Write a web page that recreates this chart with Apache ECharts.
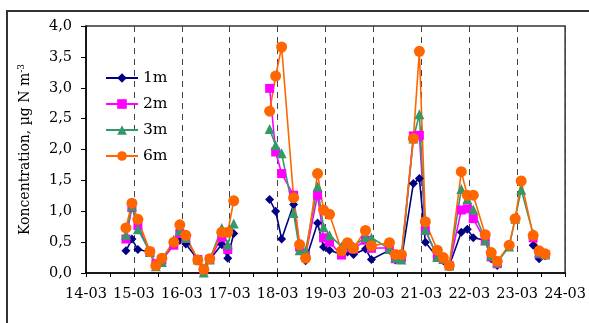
<!DOCTYPE html>
<html>
<head>
<meta charset="utf-8">
<script src="https://cdn.jsdelivr.net/npm/echarts@6/dist/echarts.min.js"></script>
<style>
  html, body { margin: 0; padding: 0; background: #fff; }
  #chart { width: 589px; height: 323px; }
</style>
</head>
<body>
<div id="chart"></div>
<script>
// Sampling times (day-month hour); a blank time breaks every line
const times = [
  '14-03 20', '14-03 23', '15-03 02', '15-03 08', '15-03 11', '15-03 14',
  '15-03 20', '15-03 23', '16-03 02', '16-03 08', '16-03 11', '16-03 14',
  '16-03 20', '16-03 23', '17-03 02', '17-03 08',
  '17-03 20', '17-03 23', '18-03 02', '18-03 08', '18-03 11', '18-03 14',
  '18-03 20', '18-03 23', '19-03 02', '19-03 08', '19-03 11', '19-03 14',
  '19-03 20', '19-03 23', '20-03 08', '20-03 11', '20-03 14',
  '20-03 20', '20-03 23', '21-03 02', '21-03 08', '21-03 11', '21-03 14',
  '21-03 20', '21-03 23', '22-03 02', '22-03 08', '22-03 11', '22-03 14',
  '22-03 20', '22-03 23', '23-03 02', '23-03 08', '23-03 11', '23-03 14'
];

// Concentration, µg N m-3, at each height
const c1m = [
  0.36, 0.55, 0.38, 0.34, 0.12, 0.20, 0.48, 0.53, 0.47, 0.22, 0.05, 0.22,
  0.46, 0.24, 0.64, null,
  1.19, 1.00, 0.55, 1.11, 0.40, 0.20, 0.81, 0.42, 0.37, 0.30, 0.34, 0.30,
  0.39, 0.22, 0.37, 0.21, 0.22, 1.45, 1.53, 0.50, 0.25, 0.20, 0.12,
  0.66, 0.71, 0.57, 0.53, 0.23, 0.12, null, null, null, 0.45, 0.23, 0.28
];
const c2m = [
  0.55, 1.06, 0.77, 0.34, 0.15, 0.21, 0.45, 0.64, 0.56, 0.22, 0.05, 0.22,
  0.58, 0.38, null, null,
  2.99, 1.96, 1.61, 1.26, 0.42, 0.28, 1.26, 0.57, 0.50, 0.29, 0.41, 0.39,
  0.53, 0.40, 0.41, 0.23, 0.25, 2.22, 2.23, 0.69, 0.26, 0.22, 0.12,
  1.02, 1.04, 0.88, 0.52, 0.26, 0.15, null, null, null, 0.57, 0.31, 0.30
];
const c3m = [
  0.62, 1.08, 0.71, 0.34, 0.11, 0.18, 0.54, 0.69, 0.57, 0.22, 0.01, 0.22,
  0.73, 0.46, 0.80, null,
  2.33, 2.07, 1.94, 0.97, 0.37, 0.36, 1.40, 0.74, 0.61, 0.43, 0.45, 0.43,
  0.58, 0.57, 0.39, 0.25, 0.22, 2.18, 2.57, 0.70, 0.26, 0.23, 0.12,
  1.36, 1.20, 1.03, 0.53, 0.28, 0.17, 0.43, 0.88, 1.35, 0.63, 0.33, 0.30
];
const c6m = [
  0.73, 1.13, 0.87, 0.35, 0.12, 0.24, 0.50, 0.78, 0.61, 0.21, 0.06, 0.23,
  0.66, 0.66, 1.17, null,
  2.62, 3.19, 3.66, 1.22, 0.46, 0.24, 1.61, 1.02, 0.95, 0.36, 0.49, 0.40,
  0.69, 0.44, 0.49, 0.30, 0.30, 2.18, 3.59, 0.83, 0.37, 0.25, 0.12,
  1.64, 1.26, 1.26, 0.62, 0.33, 0.19, 0.45, 0.88, 1.49, 0.61, 0.36, 0.31
];

const seriesNames = ['1m', '2m', '3m', '6m'];
const seriesColors = ['#000080', '#FF00FF', '#339966', '#FF6600'];
const seriesSymbols = ['diamond', 'rect', 'triangle', 'circle'];
const seriesSizes = [9, 9, 10, 11];

// x-axis runs from 14-03 00:00 (0) to 24-03 00:00 (10), in days
const firstDay = 14;
const dayTicks = ['14-03', '15-03', '16-03', '17-03', '18-03', '19-03',
                  '20-03', '21-03', '22-03', '23-03', '24-03'];

function toDays(t) {
  const day = parseInt(t.slice(0, 2), 10);
  const hour = parseInt(t.slice(6, 8), 10);
  return day - firstDay + hour / 24;
}

function pairs(values) {
  return times.map((t, i) => [toDays(t), values[i]]);
}

const values = [c1m, c2m, c3m, c6m];
const serif = '"DejaVu Serif", serif';

const chart = echarts.init(document.getElementById('chart'));
chart.setOption({
  animation: false,
  backgroundColor: '#fff',
  graphic: [{
    type: 'rect',
    shape: { x: 7, y: 11, width: 600, height: 340 },
    style: { fill: 'none', stroke: '#333', lineWidth: 2 },
    silent: true,
    z: -1
  }],
  grid: {
    left: 86, right: 22, top: 26, bottom: 50,
    show: true, borderColor: '#333', borderWidth: 1.5, backgroundColor: 'transparent'
  },
  legend: {
    orient: 'vertical',
    left: 100, top: 65,
    itemWidth: 32, itemHeight: 12, itemGap: 10,
    textStyle: { fontFamily: serif, fontSize: 15.5, color: '#000', lineHeight: 16 },
    data: seriesNames
  },
  xAxis: {
    type: 'value',
    min: 0, max: 10, interval: 1,
    axisLine: { lineStyle: { color: '#000', width: 1.5 } },
    axisTick: { show: true, length: 4, inside: false, lineStyle: { color: '#000' } },
    minorTick: { show: true, splitNumber: 2, length: 4, lineStyle: { color: '#000' } },
    axisLabel: {
      margin: 14, fontFamily: serif, fontSize: 14.5, color: '#000',
      formatter: v => dayTicks[Math.round(v)]
    },
    splitLine: { show: true, lineStyle: { color: '#444', type: [6, 5], width: 1 } }
  },
  yAxis: {
    type: 'value',
    min: 0, max: 4, interval: 0.5,
    name: '{a|Koncentration, µg N m}{b|-3}',
    nameLocation: 'middle', nameGap: 52, nameRotate: 90,
    nameTextStyle: {
      rich: {
        a: { fontFamily: serif, fontSize: 14, color: '#000' },
        b: { fontFamily: serif, fontSize: 9, color: '#000', verticalAlign: 'top', padding: [0, 0, 8, 0] }
      }
    },
    axisLine: { show: true, lineStyle: { color: '#000', width: 1.5 } },
    axisTick: { show: true, length: 5, inside: false, lineStyle: { color: '#000' } },
    axisLabel: {
      margin: 14, fontFamily: serif, fontSize: 14.5, color: '#000',
      formatter: v => v.toFixed(1).replace('.', ',')
    },
    splitLine: { show: false }
  },
  series: seriesNames.map((name, k) => ({
    name: name,
    type: 'line',
    data: pairs(values[k]),
    connectNulls: false,
    symbol: seriesSymbols[k],
    symbolSize: seriesSizes[k],
    showAllSymbol: true,
    color: seriesColors[k],
    lineStyle: { width: 1.6, color: seriesColors[k] },
    itemStyle: { color: seriesColors[k] }
  }))
});
</script>
</body>
</html>
